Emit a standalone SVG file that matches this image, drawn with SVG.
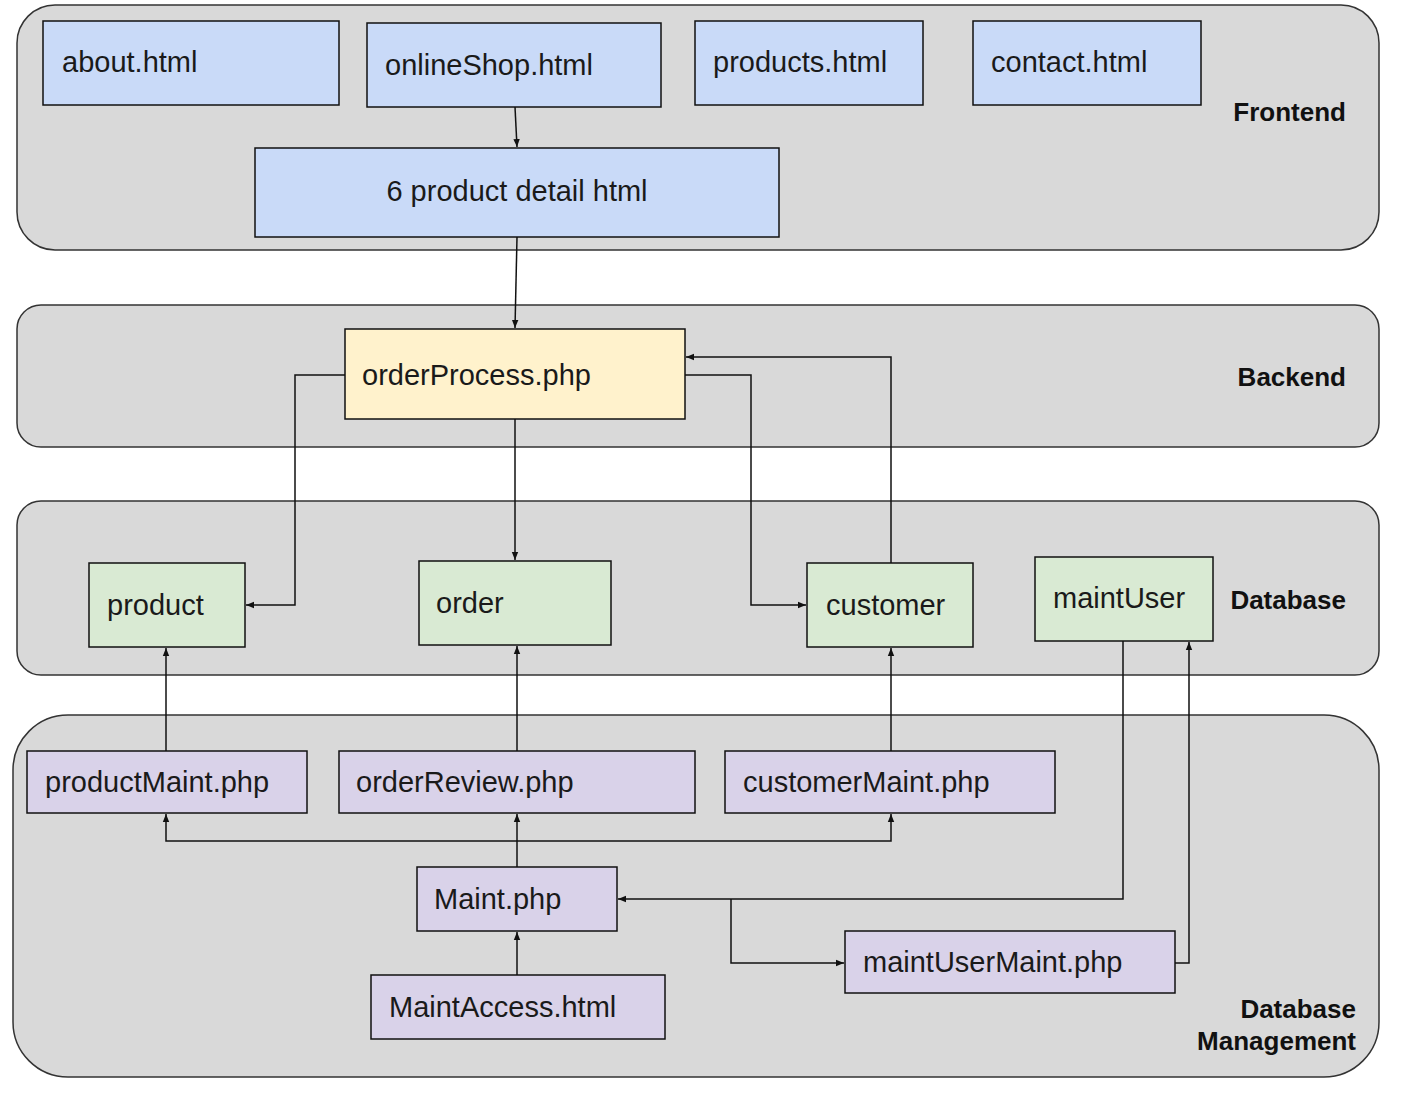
<svg xmlns="http://www.w3.org/2000/svg" width="1410" height="1110" viewBox="0 0 1410 1110">
<style>
.cont{fill:#d9d9d9;stroke:#333;stroke-width:1.5}
.box{stroke:#111;stroke-width:1.5}
.blue{fill:#c9daf8}.yel{fill:#fff2cc}.grn{fill:#d9ead3}.pur{fill:#d9d2e9}
.t{font-family:"Liberation Sans",Arial,sans-serif;font-size:29px;fill:#1a1a1a}
.lbl{font-family:"Liberation Sans",Arial,sans-serif;font-size:26px;font-weight:bold;fill:#111;text-anchor:end}
.c{fill:none;stroke:#111;stroke-width:1.5}
</style>
<defs>
<marker id="ah" viewBox="0 0 10 10" refX="10" refY="5" markerWidth="8" markerHeight="8" markerUnits="userSpaceOnUse" orient="auto">
<path d="M0,1 L10,5 L0,9 z" fill="#111"/>
</marker>
</defs>
<rect width="1410" height="1110" fill="#fff"/>
<g id="containers">
<rect id="frontend" class="cont" x="17" y="5" width="1362" height="245" rx="38"/>
<rect id="backend" class="cont" x="17" y="305" width="1362" height="142" rx="24"/>
<rect id="database" class="cont" x="17" y="501" width="1362" height="174" rx="24"/>
<rect id="dbm" class="cont" x="13" y="715" width="1366" height="362" rx="55"/>
<text class="lbl" x="1346" y="121">Frontend</text>
<text class="lbl" x="1346" y="386">Backend</text>
<text class="lbl" x="1346" y="609">Database</text>
<text class="lbl" x="1356" y="1018">Database</text>
<text class="lbl" x="1356" y="1050">Management</text>
</g>
<g id="connectors">
<path class="c" d="M515,107 L517,147" marker-end="url(#ah)"/>
<path class="c" d="M517,237 L515,328" marker-end="url(#ah)"/>
<path class="c" d="M345,375 H295 V605 H246" marker-end="url(#ah)"/>
<path class="c" d="M515,419 V560" marker-end="url(#ah)"/>
<path class="c" d="M685,375 H751 V605 H806" marker-end="url(#ah)"/>
<path class="c" d="M891,563 V357 H686" marker-end="url(#ah)"/>
<path class="c" d="M166,751 V648" marker-end="url(#ah)"/>
<path class="c" d="M517,751 V646" marker-end="url(#ah)"/>
<path class="c" d="M891,751 V648" marker-end="url(#ah)"/>
<path class="c" d="M517,841 H166 V814" marker-end="url(#ah)"/>
<path class="c" d="M517,867 V814" marker-end="url(#ah)"/>
<path class="c" d="M517,841 H891 V814" marker-end="url(#ah)"/>
<path class="c" d="M517,975 V932" marker-end="url(#ah)"/>
<path class="c" d="M1123,641 V899 H618" marker-end="url(#ah)"/>
<path class="c" d="M731,899 V963 H844" marker-end="url(#ah)"/>
<path class="c" d="M1175,963 H1189 V642" marker-end="url(#ah)"/>
</g>
<g id="about"><rect class="box blue" x="43" y="21" width="296" height="84"/><text class="t" x="62" y="72">about.html</text></g>
<g id="onlineShop"><rect class="box blue" x="367" y="23" width="294" height="84"/><text class="t" x="385" y="75">onlineShop.html</text></g>
<g id="products"><rect class="box blue" x="695" y="21" width="228" height="84"/><text class="t" x="713" y="72">products.html</text></g>
<g id="contact"><rect class="box blue" x="973" y="21" width="228" height="84"/><text class="t" x="991" y="72">contact.html</text></g>
<g id="productDetail"><rect class="box blue" x="255" y="148" width="524" height="89"/><text class="t" x="517" y="201" text-anchor="middle">6 product detail html</text></g>
<g id="orderProcess"><rect class="box yel" x="345" y="329" width="340" height="90"/><text class="t" x="362" y="385">orderProcess.php</text></g>
<g id="product"><rect class="box grn" x="89" y="563" width="156" height="84"/><text class="t" x="107" y="615">product</text></g>
<g id="order"><rect class="box grn" x="419" y="561" width="192" height="84"/><text class="t" x="436" y="613">order</text></g>
<g id="customer"><rect class="box grn" x="807" y="563" width="166" height="84"/><text class="t" x="826" y="615">customer</text></g>
<g id="maintUser"><rect class="box grn" x="1035" y="557" width="178" height="84"/><text class="t" x="1053" y="608">maintUser</text></g>
<g id="productMaint"><rect class="box pur" x="27" y="751" width="280" height="62"/><text class="t" x="45" y="792">productMaint.php</text></g>
<g id="orderReview"><rect class="box pur" x="339" y="751" width="356" height="62"/><text class="t" x="356" y="792">orderReview.php</text></g>
<g id="customerMaint"><rect class="box pur" x="725" y="751" width="330" height="62"/><text class="t" x="743" y="792">customerMaint.php</text></g>
<g id="maint"><rect class="box pur" x="417" y="867" width="200" height="64"/><text class="t" x="434" y="909">Maint.php</text></g>
<g id="maintAccess"><rect class="box pur" x="371" y="975" width="294" height="64"/><text class="t" x="389" y="1017">MaintAccess.html</text></g>
<g id="maintUserMaint"><rect class="box pur" x="845" y="931" width="330" height="62"/><text class="t" x="863" y="972">maintUserMaint.php</text></g>
</svg>
